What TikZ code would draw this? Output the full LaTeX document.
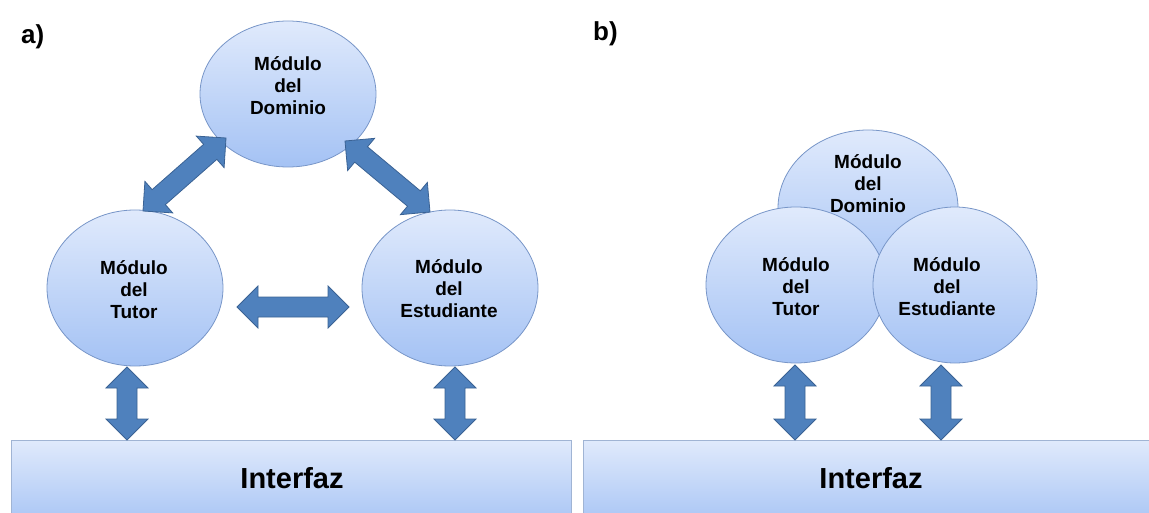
\documentclass[tikz,border=0pt]{standalone}
\usepackage{fontspec}
\setmainfont{Liberation Sans}
\usetikzlibrary{shapes.geometric,calc}

\definecolor{ovaltop}{RGB}{224,234,252}
\definecolor{ovalbot}{RGB}{164,194,244}
\definecolor{ovalline}{RGB}{120,150,200}
\definecolor{arrowfill}{RGB}{79,129,189}
\definecolor{arrowline}{RGB}{58,98,148}
\definecolor{barline}{RGB}{160,180,212}

\tikzset{
  module/.style={ellipse, draw=ovalline, line width=0.8pt,
    top color=ovaltop, bottom color=ovalbot, inner sep=0pt, outer sep=0pt},
  modtext/.style={font=\bfseries\fontsize{19}{22}\selectfont, align=center, inner sep=0pt},
  bar/.style={draw=barline, line width=1pt, top color=ovaltop, bottom color=ovalbot,
    inner sep=0pt, outer sep=0pt},
  bartext/.style={font=\bfseries\fontsize{29}{34}\selectfont, inner sep=0pt},
  panel/.style={font=\bfseries\fontsize{26}{30}\selectfont, anchor=base west, inner sep=0pt},
  twoway/.style={fill=arrowfill, draw=arrowline, line width=0.8pt, line join=miter},
}

% block double arrow between two named points: head length 21, head half width 21, shaft half width 10
\newcommand{\twowayarrow}[2]{%
  \draw[twoway] (#1)
    -- ($(#1)!21pt!(#2)!21pt!90:(#2)$)
    -- ($(#1)!21pt!(#2)!10pt!90:(#2)$)
    -- ($(#2)!21pt!(#1)!10pt!-90:(#1)$)
    -- ($(#2)!21pt!(#1)!21pt!-90:(#1)$)
    -- (#2)
    -- ($(#2)!21pt!(#1)!21pt!90:(#1)$)
    -- ($(#2)!21pt!(#1)!10pt!90:(#1)$)
    -- ($(#1)!21pt!(#2)!10pt!-90:(#2)$)
    -- ($(#1)!21pt!(#2)!21pt!-90:(#2)$)
    -- cycle;}

\begin{document}
\begin{tikzpicture}[x=1pt,y=-1pt]
\useasboundingbox (0,0) rectangle (1149,513);
\clip (0,0) rectangle (1149,513);

% panel labels
\node[panel] (la) at (21,44) {a)};
\node[panel] (lb) at (593,41) {b)};

% ---- a) separate modules ----
\node[module, minimum width=176pt, minimum height=146pt] (domA) at (288,94) {};
\node[module, minimum width=176pt, minimum height=156pt] (tutA) at (135,288) {};
\node[module, minimum width=176pt, minimum height=156pt] (estA) at (450,288) {};
\node[bar, anchor=north west, minimum width=560pt, minimum height=90pt] (intA) at (11,440) {};

\node[modtext] (tdomA) at (288,86) {Módulo\\del\\Dominio};
\node[modtext] (ttutA) at (134,290) {Módulo\\del\\Tutor};
\node[modtext] (testA) at (449,289) {Módulo\\del\\Estudiante};
\node[bartext] (tintA) at (292,478) {Interfaz};

\coordinate (p1) at (143,211);  \coordinate (p2) at (226,138);
\coordinate (p3) at (345,141);  \coordinate (p4) at (430,212);
\coordinate (p5) at (237,307);  \coordinate (p6) at (349,307);
\coordinate (p7) at (127,367);  \coordinate (p8) at (127,440);
\coordinate (p9) at (455,367);  \coordinate (p10) at (455,440);
\twowayarrow{p1}{p2}
\twowayarrow{p3}{p4}
\twowayarrow{p5}{p6}
\twowayarrow{p7}{p8}
\twowayarrow{p9}{p10}

% ---- b) overlapping modules ----
\node[module, minimum width=180pt, minimum height=156pt] (domB) at (868,208) {};
\node[module, minimum width=180pt, minimum height=156pt] (tutB) at (796,285) {};
\node[module, minimum width=164pt, minimum height=156pt] (estB) at (955,285) {};
\node[bar, anchor=north west, minimum width=580pt, minimum height=90pt] (intB) at (583,440) {};

\node[modtext] (tdomB) at (868,184) {Módulo\\del\\Dominio};
\node[modtext] (ttutB) at (796,287) {Módulo\\del\\Tutor};
\node[modtext] (testB) at (947,287) {Módulo\\del\\Estudiante};
\node[bartext] (tintB) at (871,478) {Interfaz};

\coordinate (q1) at (795,365);  \coordinate (q2) at (795,440);
\coordinate (q3) at (941,365);  \coordinate (q4) at (941,440);
\twowayarrow{q1}{q2}
\twowayarrow{q3}{q4}
\end{tikzpicture}
\end{document}
